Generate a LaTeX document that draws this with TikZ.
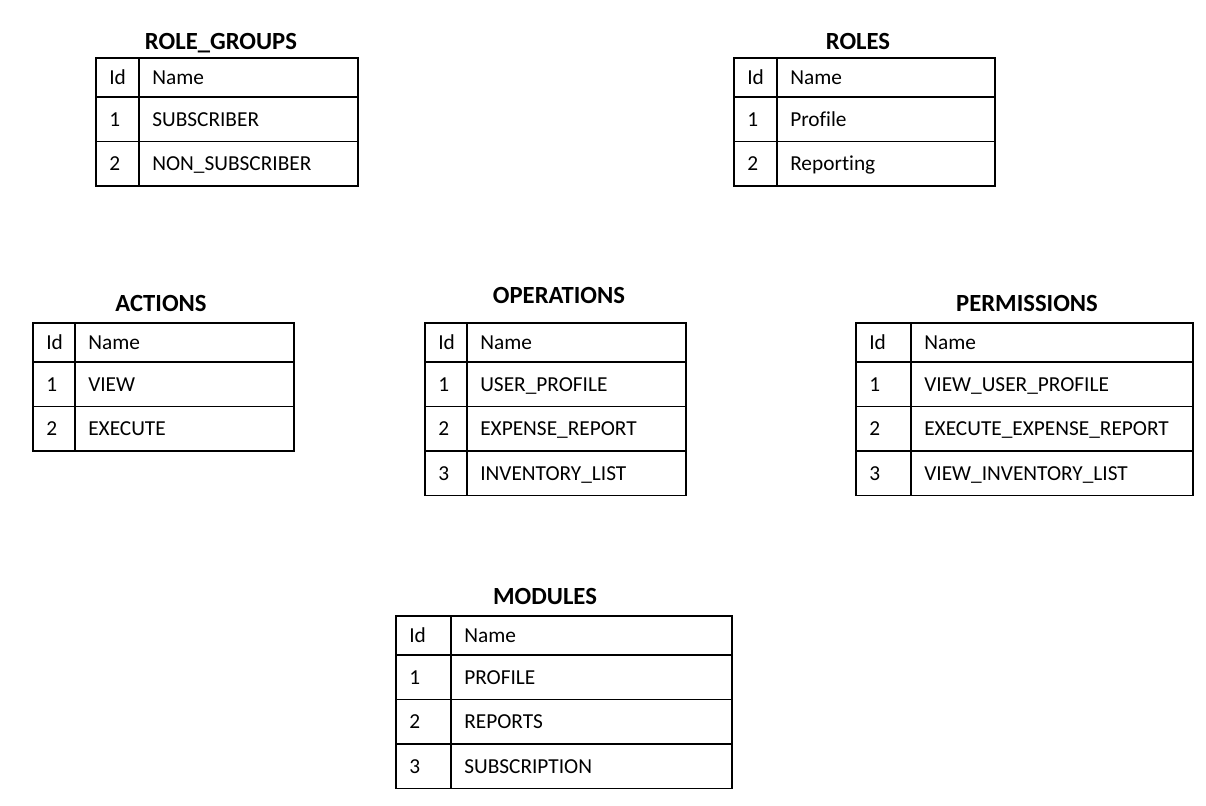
\documentclass[tikz,border=0pt]{standalone}
\usepackage{fontspec}
\setmainfont[Ligatures=NoCommon]{Carlito}
\tikzset{
  tblline/.style={line width=1.4pt, black},
  txt/.style={anchor=west, inner sep=0pt, text height=10.3pt, text depth=0pt, font=\fontsize{16}{19}\selectfont},
  ttl/.style={anchor=center, inner sep=0pt, text height=11.9pt, text depth=0pt, font=\fontsize{18.5}{22}\selectfont\bfseries},
}
% #1 prefix, #2 title, #3 title pos, #4 x0, #5 xdiv, #6 x1, #7 y0, #8 rows, #9 number of rows
\newcommand{\mktable}[9]{%
  \node[ttl] (#1-title) at #3 {#2};
  \node[txt] (#1-h-id) at (#4+13,#7+20) {Id};
  \node[txt] (#1-h-name) at (#5+13,#7+20) {Name};
  \foreach \ri/\rn [count=\k] in {#8} {
    \node[txt] (#1-\k-id) at (#4+13,{#7+39+(\k-1)*44.5+22.5}) {\ri};
    \node[txt] (#1-\k-name) at (#5+13,{#7+39+(\k-1)*44.5+22.5}) {\rn};
  }
  \draw[tblline] (#4,#7) rectangle (#6,{#7+39+#9*44.5});
  \draw[tblline] (#5,#7) -- (#5,{#7+39+#9*44.5});
  \draw[tblline] (#4,#7+39) -- (#6,#7+39);
  \foreach \k in {1,...,#9} {
    \ifnum\k<#9
      \draw[tblline] (#4,{#7+39+\k*44.5}) -- (#6,{#7+39+\k*44.5});
    \fi
  }
}
\begin{document}
\begin{tikzpicture}[x=0.75pt,y=-0.75pt]
\useasboundingbox (0,0) rectangle (1206,806);
\mktable{rg}{ROLE\_GROUPS}{(221,42)}{96}{139}{358}{58}{1/SUBSCRIBER,2/NON\_SUBSCRIBER}{2}
\mktable{roles}{ROLES}{(858,42)}{734}{777}{995}{58}{1/Profile,2/Reporting}{2}
\mktable{act}{ACTIONS}{(161,304)}{33}{75}{294}{323}{1/VIEW,2/EXECUTE}{2}
\mktable{ops}{OPERATIONS}{(559,296)}{425}{467}{686}{323}{1/USER\_PROFILE,2/EXPENSE\_REPORT,3/INVENTORY\_LIST}{3}
\mktable{perm}{PERMISSIONS}{(1027,304)}{856}{911}{1193}{323}{1/VIEW\_USER\_PROFILE,2/EXECUTE\_EXPENSE\_REPORT,3/VIEW\_INVENTORY\_LIST}{3}
\mktable{mod}{MODULES}{(545,597)}{396}{451}{732}{616}{1/PROFILE,2/REPORTS,3/SUBSCRIPTION}{3}
\end{tikzpicture}
\end{document}
